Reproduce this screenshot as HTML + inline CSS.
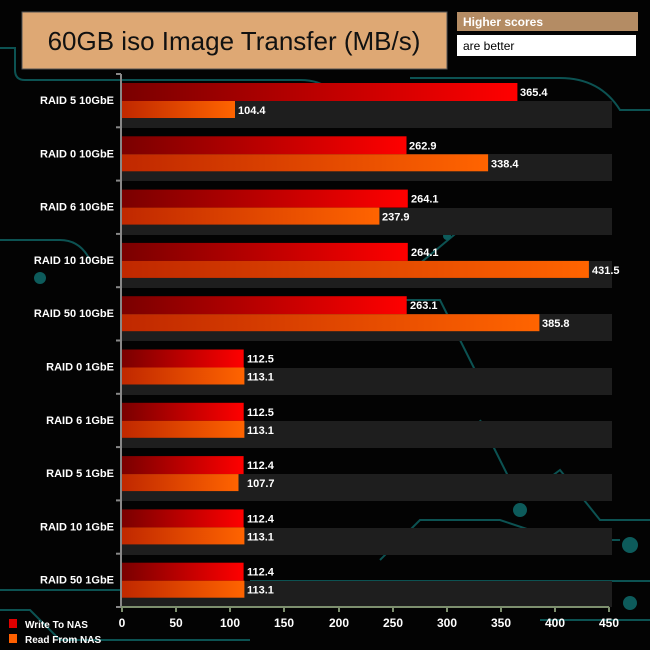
<!DOCTYPE html>
<html><head><meta charset="utf-8"><style>
html,body{margin:0;padding:0;background:#000;}
svg{display:block;font-family:"Liberation Sans",Arial,sans-serif;}
</style></head><body>
<svg width="650" height="650" viewBox="0 0 650 650" xmlns="http://www.w3.org/2000/svg">
<defs>
<linearGradient id="w" x1="0" x2="1" y1="0" y2="0"><stop offset="0" stop-color="#7a0000"/><stop offset="1" stop-color="#ff0000"/></linearGradient>
<linearGradient id="r" x1="0" x2="1" y1="0" y2="0"><stop offset="0" stop-color="#c02800"/><stop offset="1" stop-color="#ff6400"/></linearGradient>
</defs>
<rect width="650" height="650" fill="#030303"/>
<g stroke="#0d5b5b" stroke-width="2" fill="none" opacity="0.9">
<path d="M0 48 H15 V70 Q15 80 25 80 H300 Q320 80 330 90 L360 120"/>
<path d="M410 78 H560 Q600 78 620 110 H650"/>
<path d="M0 240 H60 Q80 240 90 260"/>
<path d="M400 280 L460 230 H520"/>
<path d="M330 300 H440 L480 380 H560"/>
<path d="M480 420 L520 500 L560 470 L600 520 H650"/>
<path d="M0 590 H120"/><path d="M250 581 H650"/>
<path d="M0 610 H30 L60 640 H250"/>
<path d="M380 560 L420 520 H500 L560 540 H620"/>
<path d="M540 620 H650"/>
</g>
<g fill="#0d5b5b">
<circle cx="482" cy="220" r="5"/><circle cx="447" cy="236" r="4"/><circle cx="520" cy="510" r="7"/><circle cx="630" cy="545" r="8"/><circle cx="630" cy="603" r="7"/><circle cx="40" cy="278" r="6"/>
</g>
<!-- title -->
<rect x="22" y="12" width="425" height="57" fill="#dea874" stroke="#555" stroke-width="1"/>
<text x="234" y="50" font-size="26" text-anchor="middle" fill="#111" font-family="Liberation Sans, sans-serif">60GB iso Image Transfer (MB/s)</text>
<rect x="457" y="12" width="181" height="19" fill="#b48c64"/>
<text x="463" y="26" font-size="12" font-weight="bold" fill="#fff">Higher scores</text>
<rect x="457" y="35" width="179" height="21" fill="#fff"/>
<text x="463" y="50" font-size="12" fill="#000">are better</text>
<!-- stripes -->
<g fill="#1e1e1e">
<rect x="122" y="101" width="490" height="27"/><rect x="122" y="154" width="490" height="27"/><rect x="122" y="208" width="490" height="27"/><rect x="122" y="261" width="490" height="27"/><rect x="122" y="314" width="490" height="27"/><rect x="122" y="368" width="490" height="27"/><rect x="122" y="421" width="490" height="27"/><rect x="122" y="474" width="490" height="27"/><rect x="122" y="528" width="490" height="27"/><rect x="122" y="581" width="490" height="26"/>
</g>
<g font-size="11" font-weight="bold" fill="#fff">
<!-- groups: g = 74 + i*53.3 ; write g+9..g+27, read g+27..g+44 ; scale 1.082/unit from x=122 -->
<g transform="translate(0,74)">
<rect x="122" y="9" width="395.4" height="18" fill="url(#w)"/><rect x="122" y="27" width="113" height="17" fill="url(#r)"/>
<text x="520" y="22">365.4</text><text x="238" y="40">104.4</text>
<text x="114" y="30" text-anchor="end">RAID 5 10GbE</text></g>
<g transform="translate(0,127.3)">
<rect x="122" y="9" width="284.5" height="18" fill="url(#w)"/><rect x="122" y="27" width="366.1" height="17" fill="url(#r)"/>
<text x="409" y="22">262.9</text><text x="491" y="40">338.4</text>
<text x="114" y="30" text-anchor="end">RAID 0 10GbE</text></g>
<g transform="translate(0,180.6)">
<rect x="122" y="9" width="285.8" height="18" fill="url(#w)"/><rect x="122" y="27" width="257.4" height="17" fill="url(#r)"/>
<text x="411" y="22">264.1</text><text x="382" y="40">237.9</text>
<text x="114" y="30" text-anchor="end">RAID 6 10GbE</text></g>
<g transform="translate(0,233.9)">
<rect x="122" y="9" width="285.8" height="18" fill="url(#w)"/><rect x="122" y="27" width="466.9" height="17" fill="url(#r)"/>
<text x="411" y="22">264.1</text><text x="592" y="40">431.5</text>
<text x="114" y="30" text-anchor="end">RAID 10 10GbE</text></g>
<g transform="translate(0,287.2)">
<rect x="122" y="9" width="284.7" height="18" fill="url(#w)"/><rect x="122" y="27" width="417.4" height="17" fill="url(#r)"/>
<text x="410" y="22">263.1</text><text x="542" y="40">385.8</text>
<text x="114" y="30" text-anchor="end">RAID 50 10GbE</text></g>
<g transform="translate(0,340.5)">
<rect x="122" y="9" width="121.7" height="18" fill="url(#w)"/><rect x="122" y="27" width="122.4" height="17" fill="url(#r)"/>
<text x="247" y="22">112.5</text><text x="247" y="40">113.1</text>
<text x="114" y="30" text-anchor="end">RAID 0 1GbE</text></g>
<g transform="translate(0,393.8)">
<rect x="122" y="9" width="121.7" height="18" fill="url(#w)"/><rect x="122" y="27" width="122.4" height="17" fill="url(#r)"/>
<text x="247" y="22">112.5</text><text x="247" y="40">113.1</text>
<text x="114" y="30" text-anchor="end">RAID 6 1GbE</text></g>
<g transform="translate(0,447.1)">
<rect x="122" y="9" width="121.6" height="18" fill="url(#w)"/><rect x="122" y="27" width="116.5" height="17" fill="url(#r)"/>
<text x="247" y="22">112.4</text><text x="247" y="40">107.7</text>
<text x="114" y="30" text-anchor="end">RAID 5 1GbE</text></g>
<g transform="translate(0,500.4)">
<rect x="122" y="9" width="121.6" height="18" fill="url(#w)"/><rect x="122" y="27" width="122.4" height="17" fill="url(#r)"/>
<text x="247" y="22">112.4</text><text x="247" y="40">113.1</text>
<text x="114" y="30" text-anchor="end">RAID 10 1GbE</text></g>
<g transform="translate(0,553.7)">
<rect x="122" y="9" width="121.6" height="18" fill="url(#w)"/><rect x="122" y="27" width="122.4" height="17" fill="url(#r)"/>
<text x="247" y="22">112.4</text><text x="247" y="40">113.1</text>
<text x="114" y="30" text-anchor="end">RAID 50 1GbE</text></g>
</g>
<!-- axes -->
<g stroke="#888" stroke-width="2">
<line x1="121" y1="74" x2="121" y2="607"/>
<line x1="116" y1="74" x2="121" y2="74"/><line x1="116" y1="127.3" x2="121" y2="127.3"/><line x1="116" y1="180.6" x2="121" y2="180.6"/><line x1="116" y1="233.9" x2="121" y2="233.9"/><line x1="116" y1="287.2" x2="121" y2="287.2"/><line x1="116" y1="340.5" x2="121" y2="340.5"/><line x1="116" y1="393.8" x2="121" y2="393.8"/><line x1="116" y1="447.1" x2="121" y2="447.1"/><line x1="116" y1="500.4" x2="121" y2="500.4"/><line x1="116" y1="553.7" x2="121" y2="553.7"/><line x1="116" y1="607" x2="121" y2="607"/>
</g>
<g stroke="#7d8f6e" stroke-width="2">
<line x1="121" y1="607" x2="609" y2="607"/>
<line x1="122" y1="607" x2="122" y2="612"/><line x1="176" y1="607" x2="176" y2="612"/><line x1="230" y1="607" x2="230" y2="612"/><line x1="284" y1="607" x2="284" y2="612"/><line x1="339" y1="607" x2="339" y2="612"/><line x1="393" y1="607" x2="393" y2="612"/><line x1="447" y1="607" x2="447" y2="612"/><line x1="501" y1="607" x2="501" y2="612"/><line x1="555" y1="607" x2="555" y2="612"/><line x1="609" y1="607" x2="609" y2="612"/>
</g>
<g font-size="12" font-weight="bold" fill="#fff" text-anchor="middle">
<text x="122" y="627">0</text><text x="176" y="627">50</text><text x="230" y="627">100</text><text x="284" y="627">150</text><text x="339" y="627">200</text><text x="393" y="627">250</text><text x="447" y="627">300</text><text x="501" y="627">350</text><text x="555" y="627">400</text><text x="609" y="627">450</text>
</g>
<!-- legend -->
<rect x="9" y="619" width="8" height="9" fill="#e00000"/>
<rect x="9" y="634" width="8" height="9" fill="#ff6000"/>
<g font-size="10" font-weight="bold" fill="#fff">
<text x="25" y="628">Write To NAS</text><text x="25" y="643">Read From NAS</text>
</g>
</svg>
</body></html>
